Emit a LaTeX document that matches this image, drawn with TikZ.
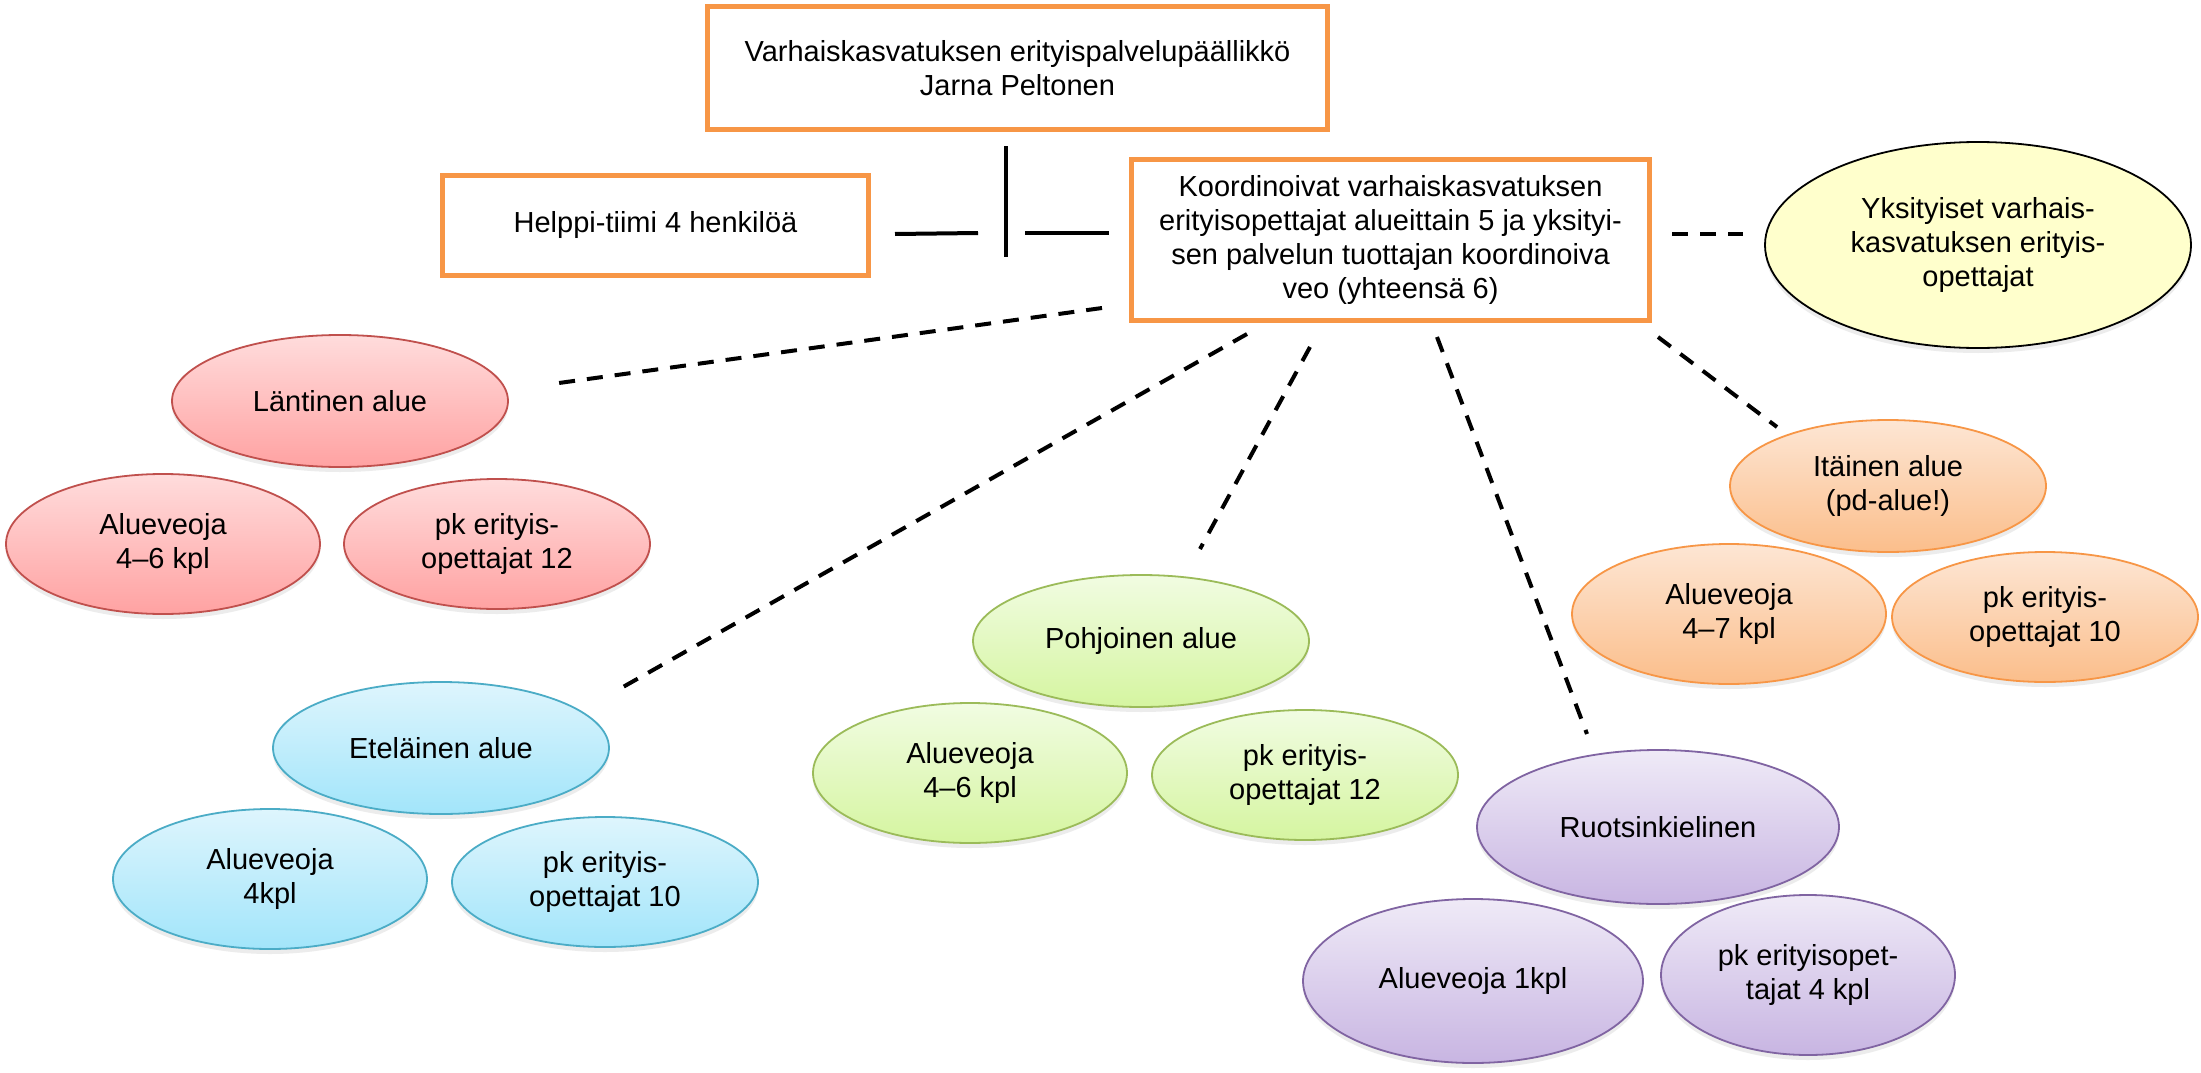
\documentclass[tikz,border=0pt]{standalone}
\usepackage{fontspec}
\setmainfont{Liberation Sans}
\usetikzlibrary{shapes.geometric,shadows}
\definecolor{orangeB}{HTML}{F79646}
\definecolor{redB}{HTML}{C0504D}
\definecolor{redT}{HTML}{FFDCDC}
\definecolor{redD}{HTML}{FFA2A2}
\definecolor{blueB}{HTML}{4BACC6}
\definecolor{blueT}{HTML}{DEF5FD}
\definecolor{blueD}{HTML}{A2E5FA}
\definecolor{greenB}{HTML}{9BBB59}
\definecolor{greenT}{HTML}{F1FCE2}
\definecolor{greenD}{HTML}{D5F5A0}
\definecolor{purpB}{HTML}{8064A2}
\definecolor{purpT}{HTML}{EFEAF7}
\definecolor{purpD}{HTML}{C8B5E2}
\definecolor{oraT}{HTML}{FDE6D4}
\definecolor{oraD}{HTML}{FBBE8B}
\definecolor{yelF}{HTML}{FFFFCC}
\tikzset{
  every node/.style={font=\fontsize{29}{34}\selectfont, align=center, text=black},
  obox/.style={rectangle, draw=orangeB, line width=5pt, fill=white, inner sep=0pt},
  oval/.style={ellipse, inner sep=0pt, line width=1.8pt,
    drop shadow={shadow xshift=0pt, shadow yshift=-5pt, opacity=0.15}},
  redoval/.style={oval, draw=redB, top color=redT, bottom color=redD},
  blueoval/.style={oval, draw=blueB, top color=blueT, bottom color=blueD},
  greenoval/.style={oval, draw=greenB, top color=greenT, bottom color=greenD},
  purpoval/.style={oval, draw=purpB, top color=purpT, bottom color=purpD},
  oraoval/.style={oval, draw=orangeB, top color=oraT, bottom color=oraD},
  yeloval/.style={oval, draw=black, fill=yelF},
  topoval/.style={minimum width=336pt, minimum height=132pt},
  leftoval/.style={minimum width=314pt, minimum height=140pt},
  rightoval/.style={minimum width=306pt, minimum height=130pt},
  dconn/.style={dash pattern=on 16pt off 12pt, line width=4pt},
  sconn/.style={line width=4.5pt},
}
\begin{document}
\begin{tikzpicture}[x=1pt,y=-1pt]
\fill[white] (0,0) rectangle (2201,1073);
\useasboundingbox (0,0) rectangle (2201,1073);

% boxes
\node[obox, minimum width=620pt, minimum height=123pt] (chief) at (1017.5,68)
  {Varhaiskasvatuksen erityispalvelupäällikkö\\Jarna Peltonen};
\node[obox, minimum width=426pt, minimum height=100pt] (helppi) at (655.5,225.5)
  {Helppi-tiimi 4 henkilöä};
\node[obox, minimum width=518pt, minimum height=161pt] (koord) at (1390.5,240)
  {Koordinoivat varhaiskasvatuksen\\erityisopettajat alueittain 5 ja yksityi-\\sen palvelun tuottajan koordinoiva\\veo (yhteensä 6)};
\node[yeloval, minimum width=426pt, minimum height=206pt] (yks) at (1978,245)
  {Yksityiset varhais-\\kasvatuksen erityis-\\opettajat};

% west
\node[redoval, topoval] (lant) at (340,401) {Läntinen alue};
\node[redoval, leftoval] (lantA) at (163,544) {Alueveoja\\4–6 kpl};
\node[redoval, rightoval] (lantB) at (497,544) {pk erityis-\\opettajat 12};

% south
\node[blueoval, topoval] (elat) at (441,748) {Eteläinen alue};
\node[blueoval, leftoval] (elatA) at (270,879) {Alueveoja\\4kpl};
\node[blueoval, rightoval] (elatB) at (605,882) {pk erityis-\\opettajat 10};

% north
\node[greenoval, topoval] (pohj) at (1141,641) {Pohjoinen alue};
\node[greenoval, leftoval] (pohjA) at (970,773) {Alueveoja\\4–6 kpl};
\node[greenoval, rightoval] (pohjB) at (1305,775) {pk erityis-\\opettajat 12};

% east
\node[oraoval, minimum width=316pt, minimum height=132pt] (ita) at (1888,486) {Itäinen alue\\(pd-alue!)};
\node[oraoval, leftoval] (itaA) at (1729,614) {Alueveoja\\4–7 kpl};
\node[oraoval, rightoval] (itaB) at (2045,617) {pk erityis-\\opettajat 10};

% swedish
\node[purpoval, minimum width=362pt, minimum height=154pt] (ruot) at (1658,827) {Ruotsinkielinen};
\node[purpoval, minimum width=340pt, minimum height=164pt] (ruotA) at (1473,981) {Alueveoja 1kpl};
\node[purpoval, minimum width=294pt, minimum height=160pt] (ruotB) at (1808,975) {pk erityisopet-\\tajat 4 kpl};

% solid connectors
\coordinate (vtop) at (1006,146);
\coordinate (vbot) at (1006,257);
\coordinate (hl1) at (895,234);
\coordinate (hl2) at (978,233);
\coordinate (hr1) at (1025,233);
\coordinate (hr2) at (1109,233);
\draw[sconn] (vtop) -- (vbot);
\draw[sconn, line width=4pt] (hl1) -- (hl2);
\draw[sconn, line width=4pt] (hr1) -- (hr2);

% dashed connectors
\coordinate (d1a) at (1102,308); \coordinate (d1b) at (559,383);
\coordinate (d2a) at (1247,334); \coordinate (d2b) at (623,687);
\coordinate (d3a) at (1310,347); \coordinate (d3b) at (1200,549);
\coordinate (d4a) at (1437,337); \coordinate (d4b) at (1587,734);
\coordinate (d5a) at (1658,337); \coordinate (d5b) at (1777,427);
\coordinate (d6a) at (1672,234); \coordinate (d6b) at (1743,234);
\draw[dconn] (d1a) -- (d1b);
\draw[dconn] (d2a) -- (d2b);
\draw[dconn] (d3a) -- (d3b);
\draw[dconn] (d4a) -- (d4b);
\draw[dconn] (d5a) -- (d5b);
\draw[dconn] (d6a) -- (d6b);
\end{tikzpicture}
\end{document}
